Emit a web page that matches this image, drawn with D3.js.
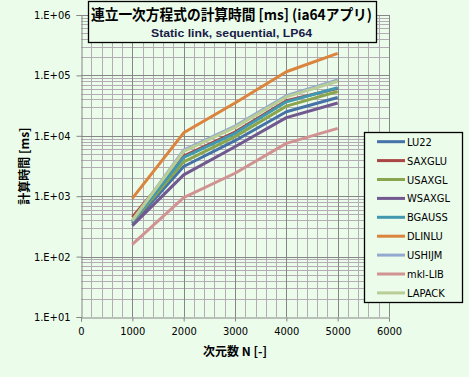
<html>
<head>
<meta charset="utf-8">
<title>連立一次方程式の計算時間</title>
<script src="https://cdn.jsdelivr.net/npm/d3@7"></script>
<style>
  * { margin: 0; padding: 0; }
  body { background: #ebfceb; }
  svg { display: block; font-family: "Liberation Sans", "Noto Sans CJK JP", sans-serif; }
</style>
</head>
<body>
<div id="chart"></div>
<script>
var sizes = [1000, 2000, 3000, 4000, 5000];
var seriesNames = ['LU22', 'SAXGLU', 'USAXGL', 'WSAXGL', 'BGAUSS', 'DLINLU', 'USHIJM', 'mkl-LIB', 'LAPACK'];
var seriesColors = ['#4572a7', '#aa4643', '#89a54e', '#71588f', '#4198af', '#db843d', '#93a9cf', '#d19392', '#b9cd96'];
var LU22   = [350, 3100, 8300, 25000, 43000];
var SAXGLU = [450, 4600, 11500, 38000, 61000];
var USAXGL = [370, 3700, 9700, 31000, 54000];
var WSAXGL = [325, 2250, 6600, 20000, 35000];
var BGAUSS = [380, 4400, 11000, 36500, 62500];
var DLINLU = [920, 11200, 35000, 115000, 232000];
var USHIJM = [390, 5800, 14500, 46000, 84000];
var mklLIB = [160, 950, 2400, 7500, 13300];
var LAPACK = [400, 5500, 13800, 44000, 80000];
var seriesValues = [LU22, SAXGLU, USAXGL, WSAXGL, BGAUSS, DLINLU, USHIJM, mklLIB, LAPACK];
var xTicks = [0, 1000, 2000, 3000, 4000, 5000, 6000];
var yTicks = [1e1, 1e2, 1e3, 1e4, 1e5, 1e6];
var yTickLabels = ['1.E+01', '1.E+02', '1.E+03', '1.E+04', '1.E+05', '1.E+06'];

var W = 469, H = 377;
var plot = {left: 81, right: 389, top: 15, bottom: 317};

var svg = d3.select('#chart').append('svg').attr('width', W).attr('height', H);
svg.append('rect').attr('width', W).attr('height', H).attr('fill', '#ebfceb');

var x = d3.scaleLinear().domain([0, 6000]).range([plot.left, plot.right]);
var y = d3.scaleLog().domain([10, 1e6]).range([plot.bottom, plot.top]);

// minor grid
var g = svg.append('g');
var minorX = d3.range(200, 6000, 200).filter(function(v) { return v % 1000 !== 0; });
g.selectAll('.mx').data(minorX).enter().append('line')
  .attr('x1', function(d) { return Math.round(x(d)) + 0.5; }).attr('x2', function(d) { return Math.round(x(d)) + 0.5; })
  .attr('y1', plot.top).attr('y2', plot.bottom)
  .attr('stroke', '#b4acb4').attr('stroke-width', 1);
var minorY = [];
yTicks.slice(0, -1).forEach(function(t) {
  for (var k = 2; k <= 9; k++) minorY.push(t * k);
});
g.selectAll('.my').data(minorY).enter().append('line')
  .attr('x1', plot.left).attr('x2', plot.right)
  .attr('y1', function(d) { return Math.round(y(d)) + 0.5; }).attr('y2', function(d) { return Math.round(y(d)) + 0.5; })
  .attr('stroke', '#b4acb4').attr('stroke-width', 1);
// major grid
g.selectAll('.Mx').data(xTicks.slice(1)).enter().append('line')
  .attr('x1', function(d) { return Math.round(x(d)) + 0.5; }).attr('x2', function(d) { return Math.round(x(d)) + 0.5; })
  .attr('y1', plot.top).attr('y2', plot.bottom)
  .attr('stroke', '#868686').attr('stroke-width', 1);
g.selectAll('.My').data(yTicks.slice(1)).enter().append('line')
  .attr('x1', plot.left).attr('x2', plot.right)
  .attr('y1', function(d) { return Math.round(y(d)) + 0.5; }).attr('y2', function(d) { return Math.round(y(d)) + 0.5; })
  .attr('stroke', '#868686').attr('stroke-width', 1);

// axes
var xAxis = d3.axisBottom(x).tickValues(xTicks).tickSize(4).tickPadding(6).tickFormat(d3.format('d'));
var yAxis = d3.axisLeft(y).tickValues(yTicks).tickSize(5).tickPadding(6)
  .tickFormat(function(d, i) { return yTickLabels[i]; });
var gx = svg.append('g').attr('transform', 'translate(0,' + (Math.round(plot.bottom) + 0.5) + ')').call(xAxis);
var gy = svg.append('g').attr('transform', 'translate(' + (plot.left + 0.5) + ',0)').call(yAxis);
[gx, gy].forEach(function(a) {
  a.select('.domain').attr('stroke', '#868686');
  a.selectAll('.tick line').attr('stroke', '#868686');
  a.selectAll('.tick text').attr('fill', '#000').style('font-size', '11px')
    .style('font-family', '"DejaVu Sans Condensed", "Liberation Sans", sans-serif');
});

// series
var line = d3.line().x(function(d) { return x(d[0]); }).y(function(d) { return y(d[1]); });
seriesValues.forEach(function(vals, i) {
  svg.append('path')
    .datum(sizes.map(function(s, j) { return [s, vals[j]]; }))
    .attr('d', line)
    .attr('fill', 'none')
    .attr('stroke', seriesColors[i])
    .attr('stroke-width', 3)
    .attr('stroke-linejoin', 'round');
});

// title box
svg.append('rect').attr('x', 88.5).attr('y', 1.5).attr('width', 288).attr('height', 41)
  .attr('fill', '#ebfceb').attr('stroke', '#000').attr('stroke-width', 1.3);
svg.append('text').attr('x', 231.5).attr('y', 19.5).attr('text-anchor', 'middle')
  .style('font-size', '14.5px').style('font-weight', 'bold')
  .style('font-family', '"Noto Sans CJK JP", sans-serif')
  .attr('textLength', 281).attr('lengthAdjust', 'spacingAndGlyphs')
  .text('連立一次方程式の計算時間 [ms] (ia64アプリ)');
svg.append('text').attr('x', 231.5).attr('y', 36.5).attr('text-anchor', 'middle')
  .style('font-size', '11.5px').style('font-weight', 'bold').attr('fill', '#1a1a48')
  .attr('textLength', 161).attr('lengthAdjust', 'spacingAndGlyphs')
  .text('Static link, sequential, LP64');

// axis titles
svg.append('text').attr('x', 235).attr('y', 356).attr('text-anchor', 'middle')
  .style('font-size', '12px').style('font-weight', 'bold')
  .style('font-family', '"Noto Sans CJK JP", sans-serif')
  .text('次元数 N [-]');
svg.append('text').attr('transform', 'translate(29,166) rotate(-90)').attr('text-anchor', 'middle')
  .style('font-size', '12px').style('font-weight', 'bold')
  .style('font-family', '"Noto Sans CJK JP", sans-serif')
  .text('計算時間 [ms]');

// legend
var lg = svg.append('g');
lg.append('rect').attr('x', 364.5).attr('y', 132.5).attr('width', 98).attr('height', 170)
  .attr('fill', '#ebfceb').attr('stroke', '#000').attr('stroke-width', 1.3);
seriesNames.forEach(function(name, i) {
  var ly = 141.7 + i * 18.9;
  lg.append('line').attr('x1', 377).attr('x2', 405).attr('y1', ly).attr('y2', ly)
    .attr('stroke', seriesColors[i]).attr('stroke-width', 3);
  lg.append('text').attr('x', 407).attr('y', ly + 4)
    .style('font-size', '11px')
    .style('font-family', '"DejaVu Sans Condensed", "Liberation Sans", sans-serif')
    .text(name);
});
</script>
</body>
</html>
